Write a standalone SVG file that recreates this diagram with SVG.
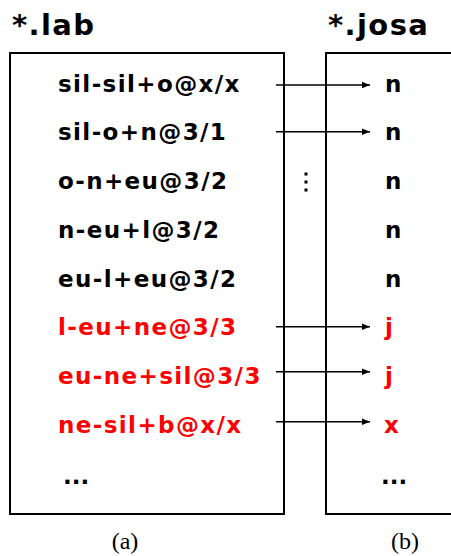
<svg xmlns="http://www.w3.org/2000/svg" width="451" height="556" viewBox="0 0 451 556">
  <style>
    .box { fill: none; stroke: #000; stroke-width: 2; }
    .title { font-family: "DejaVu Sans", Verdana, sans-serif; font-weight: bold; font-size: 29px; letter-spacing: 1.4px; fill: #000; }
    .lab { font-family: "DejaVu Sans", Verdana, sans-serif; font-weight: bold; font-size: 23px; letter-spacing: 1.4px; fill: #000; }
    .dots { letter-spacing: 0; }
    .red { fill: #ff0000; }
    .cap { font-family: "Liberation Serif", "DejaVu Serif", serif; font-size: 24px; fill: #000; }
    .conn { stroke: #000; stroke-width: 1.5; fill: none; marker-end: url(#arrow); }
  </style>
  <defs>
    <marker id="arrow" viewBox="0 0 10 10" refX="10" refY="5" markerWidth="9" markerHeight="8" markerUnits="userSpaceOnUse" orient="auto">
      <path d="M0,1 L10,5 L0,9 z" fill="#000"/>
    </marker>
  </defs>
  <rect width="451" height="556" fill="#fff"/>

  <g id="lab">
    <text class="title" x="12" y="35">*.lab</text>
    <rect class="box" x="10" y="53" width="274" height="461"/>
    <text class="lab" x="58" y="91.7">sil-sil+o@x/x</text>
    <text class="lab" x="58" y="140.4">sil-o+n@3/1</text>
    <text class="lab" x="58" y="189">o-n+eu@3/2</text>
    <text class="lab" x="58" y="237.8">n-eu+l@3/2</text>
    <text class="lab" x="58" y="286.5">eu-l+eu@3/2</text>
    <text class="lab red" x="58" y="335">l-eu+ne@3/3</text>
    <text class="lab red" x="58" y="383.8">eu-ne+sil@3/3</text>
    <text class="lab red" x="58" y="432.5">ne-sil+b@x/x</text>
    <text class="lab dots" x="63" y="484">...</text>
    <text class="cap" x="125" y="549" text-anchor="middle">(a)</text>
  </g>

  <g id="josa">
    <text class="title" x="328" y="35">*.josa</text>
    <path class="box" d="M452,53 H326 V514 H452"/>
    <text class="lab" x="385" y="91.7">n</text>
    <text class="lab" x="385" y="140.4">n</text>
    <text class="lab" x="385" y="189">n</text>
    <text class="lab" x="385" y="237.8">n</text>
    <text class="lab" x="385" y="286.5">n</text>
    <text class="lab red" x="385" y="335">j</text>
    <text class="lab red" x="385" y="383.8">j</text>
    <text class="lab red" x="384" y="432.5">x</text>
    <text class="lab dots" x="381" y="484">...</text>
    <text class="cap" x="405" y="549" text-anchor="middle">(b)</text>
  </g>

  <g id="gap-ellipsis">
    <rect x="304.5" y="172.5" width="3" height="3" fill="#000"/>
    <rect x="304.5" y="180.5" width="3" height="3" fill="#000"/>
    <rect x="304.5" y="188.5" width="3" height="3" fill="#000"/>
  </g>

  <g id="connectors">
    <line class="conn" x1="276" y1="85" x2="370" y2="85"/>
    <line class="conn" x1="276" y1="131.7" x2="370" y2="131.7"/>
    <line class="conn" x1="276" y1="326.7" x2="370" y2="326.7"/>
    <line class="conn" x1="276" y1="371.7" x2="370" y2="371.7"/>
    <line class="conn" x1="276" y1="421.7" x2="370" y2="421.7"/>
  </g>
</svg>
